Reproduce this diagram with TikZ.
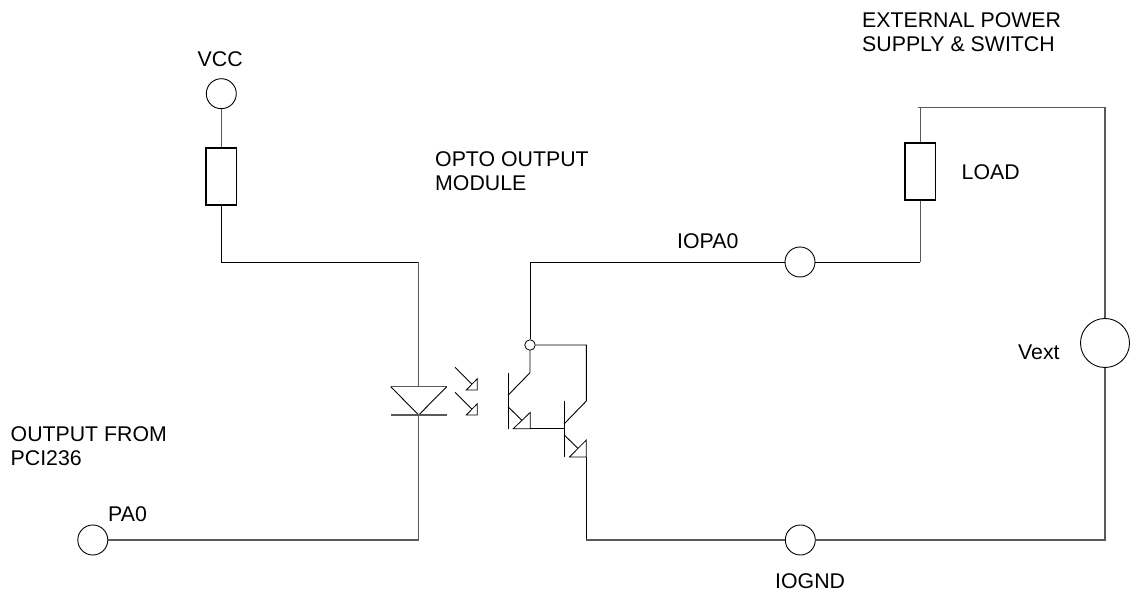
\documentclass[tikz,border=0pt]{standalone}
\usepackage{fontspec}
\setmainfont{Liberation Sans}
\begin{document}
\begin{tikzpicture}[x=1pt,y=-1pt,
  wire/.style={draw=black,line width=0.9pt,line join=miter},
  softwire/.style={draw=black!65,line width=1.1pt},
  term/.style={circle,draw=black,line width=0.9pt,fill=white,minimum size=30pt,inner sep=0pt},
  junct/.style={circle,draw=black,line width=0.8pt,fill=white,minimum size=10.5pt,inner sep=0pt},
  res/.style={rectangle,draw=black,line width=1.4pt,fill=white,minimum width=30.5pt,minimum height=57pt,inner sep=0pt},
  lbl/.style={inner sep=0pt,font=\fontsize{21.3}{24.5}\selectfont,align=left,text=black},
  tip/.style={draw=black,line width=0.8pt,fill=white,line join=miter}]
\useasboundingbox (0,0) rectangle (1130,593);
\fill[white] (0,0) rectangle (1130,593);
% terminals and parts
\node[term] (vcc) at (221.3,93.7) {};
\node[term] (pa) at (92.8,540) {};
\node[term] (iopa) at (800,262) {};
\node[term] (iognd) at (800.3,540) {};
\node[circle,draw=black,line width=0.9pt,fill=white,minimum size=49pt,inner sep=0pt] (vext) at (1105,343) {};
\node[res] (r1) at (221.3,176.7) {};
\node[res] (load) at (920.3,171.7) {};
\node[junct] (j) at (530,345) {};
% corner and junction coordinates
\coordinate (ledtop) at (418.7,386.7);
\coordinate (ledl) at (390.7,386.7);
\coordinate (ledr) at (446.7,386.7);
\coordinate (leda) at (418.7,415);
\coordinate (barl) at (390.7,415);
\coordinate (barr) at (446.7,415);
\coordinate (c1) at (221.3,262);
\coordinate (c2) at (418.7,262);
\coordinate (c3) at (418.7,540);
\coordinate (c4) at (530,262);
\coordinate (c5) at (920.3,262);
\coordinate (c6) at (920.3,107.7);
\coordinate (c6b) at (917.7,107.7);
\coordinate (c7) at (1105,107.7);
\coordinate (c8) at (1105,540);
\coordinate (c9) at (586.3,540);
\coordinate (c10) at (586.3,345);
% left wiring
\draw[softwire] (vcc) -- (r1);
\draw[wire] (r1) -- (c1) -- (c2);
\draw[softwire] (c2) -- (ledtop);
\draw[softwire] (leda) -- (c3);
\draw[softwire] (c3) -- (pa);
% LED
\draw[softwire] (ledl) -- (ledr);
\draw[wire] (ledl) -- (leda) -- (ledr);
\draw[softwire] (barl) -- (barr);
% light arrows
\coordinate (a1s) at (455,367.3);
\coordinate (a1e) at (472,384.3);
\coordinate (a2s) at (455,392.3);
\coordinate (a2e) at (472,409.3);
\draw[wire] (a1s) -- (a1e);
\draw[wire] (a2s) -- (a2e);
\draw[tip] (477.3,378.7) -- (477.3,390) -- (466.3,390) -- cycle;
\draw[tip] (477.3,403.7) -- (477.3,415) -- (466.3,415) -- cycle;
% first transistor
\draw[wire] (508,372.7) -- (508,428.7);
\draw[wire] (508,395.3) -- (530,372.7) -- (j);
\draw[wire] (508,406.7) -- (522,420.5);
\draw[tip] (530.3,412.3) -- (530.3,428.7) -- (513.3,428.7) -- cycle;
\draw[wire] (530.3,428.7) -- (564,428.7);
% second transistor
\draw[wire] (564,400.7) -- (564,457);
\draw[wire] (564,424) -- (586.3,401) -- (c10) -- (j);
\draw[wire] (564,434.7) -- (578,448.5);
\draw[tip] (586.3,440) -- (586.3,457) -- (569.5,457) -- cycle;
% right wiring
\draw[wire] (j) -- (c4) -- (iopa);
\draw[wire] (586.3,457) -- (c9);
\draw[softwire] (c9) -- (iognd);
\draw[wire] (iopa) -- (c5);
\draw[softwire] (c5) -- (load);
\draw[softwire] (load) -- (c6);
\draw[softwire] (c6b) -- (c7) -- (vext);
\draw[softwire] (vext) -- (c8) -- (iognd);
% labels
\node[lbl,anchor=base west] (t1) at (197.5,66.7) {VCC};
\node[lbl,anchor=west] (t2) at (435,171.2) {OPTO OUTPUT\\MODULE};
\node[lbl,anchor=west] (t3) at (862,32) {EXTERNAL POWER\\SUPPLY \& SWITCH};
\node[lbl,anchor=base west] (t4) at (961.5,179.3) {LOAD};
\node[lbl,anchor=base west] (t5) at (677,249) {IOPA0};
\node[lbl,anchor=base west] (t6) at (1018,360) {Vext};
\node[lbl,anchor=west] (t7) at (10.5,446.2) {OUTPUT FROM\\PCI236};
\node[lbl,anchor=base west] (t8) at (108,521.7) {PA0};
\node[lbl,anchor=base west] (t9) at (775,588) {IOGND};
\end{tikzpicture}
\end{document}
